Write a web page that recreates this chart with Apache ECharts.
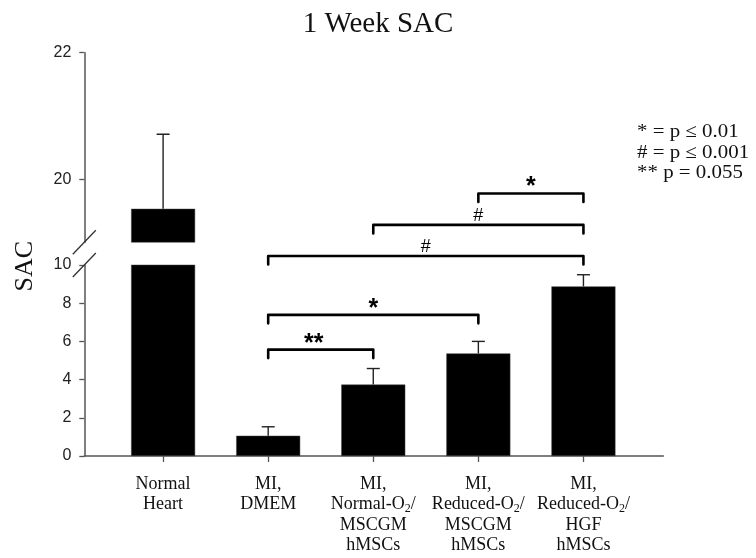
<!DOCTYPE html>
<html>
<head>
<meta charset="utf-8">
<script src="https://cdn.jsdelivr.net/npm/echarts@6/dist/echarts.min.js"></script>
<style>html,body{margin:0;padding:0;background:#fff}#c{width:756px;height:558px}</style>
</head>
<body>
<div id="c"></div>
<script>
// ---- data ----
const categories = ['Normal\nHeart', 'MI,\nDMEM', 'MI,\nNormal-O2/\nMSCGM\nhMSCs', 'MI,\nReduced-O2/\nMSCGM\nhMSCs', 'MI,\nReduced-O2/\nHGF\nhMSCs'];
const meanValues = [19.53, 1.06, 3.74, 5.37, 8.88];
const errorTops = [20.71, 1.53, 4.58, 6.0, 9.49];
const lowerTicks = [0, 2, 4, 6, 8, 10];
const upperTicks = [20, 22];
const brkFrom = [1, 1, 1, 2, 3];
const brkTo = [2, 3, 4, 4, 4];
const brkLevel = [5.57, 7.39, 10.47, 12.10, 13.74];
const brkLabel = ['**', '*', '#', '#', '*'];
const legendLines = ['* = p \u2264 0.01', '# = p \u2264 0.001', '** p = 0.055'];

const X_MIN = -0.75, X_MAX = 4.76;
const LOW_MIN = 0, LOW_MAX = 10, UP_MIN = 19, UP_MAX = 22;
const serif = 'Liberation Serif';
const sans = 'Liberation Sans';
const axisCol = '#555';

const chart = echarts.init(document.getElementById('c'), null, {renderer: 'canvas'});

const idx = categories.map((_, i) => i);
const barData = meanValues.map((v, i) => [i, v]);
const errData = meanValues.map((v, i) => [i, v, errorTops[i]]);
const brkData = brkFrom.map((f, i) => [f, brkTo[i], brkLevel[i], i]);

function errorRender(params, api) {
  const x = api.value(0);
  const b = api.coord([x, api.value(1)]);
  const t = api.coord([x, api.value(2)]);
  return {
    type: 'group',
    children: [
      {type: 'line', shape: {x1: b[0], y1: b[1], x2: t[0], y2: t[1]}, style: {stroke: '#222', lineWidth: 1.4}},
      {type: 'line', shape: {x1: t[0] - 6.5, y1: t[1], x2: t[0] + 6.5, y2: t[1]}, style: {stroke: '#222', lineWidth: 1.4}}
    ]
  };
}

function bracketRender(params, api) {
  const i = api.value(3);
  const p1 = api.coord([api.value(0), api.value(2)]);
  const p2 = api.coord([api.value(1), api.value(2)]);
  const leg = 8.5;
  const lab = brkLabel[i];
  const isStar = lab.indexOf('*') >= 0;
  return {
    type: 'group',
    children: [
      {type: 'polyline', shape: {points: [[p1[0], p1[1] + leg], [p1[0], p1[1]], [p2[0], p2[1]], [p2[0], p2[1] + leg]]},
       style: {stroke: '#000', lineWidth: 2.6, fill: null, lineJoin: 'round', lineCap: 'round'}},
      {type: 'text', x: (p1[0] + p2[0]) / 2 - (lab === '**' ? 7 : 0), y: p1[1] - (isStar ? 6 : 9),
       style: {text: lab, fill: '#000', font: (isStar ? 'bold 25px ' : '18px ') + '"' + sans + '"', align: 'center', verticalAlign: 'middle'}}
    ]
  };
}

function breakRender(params, api) {
  const p = api.coord([api.value(0), api.value(1)]);
  return {type: 'line', shape: {x1: p[0] - 11.5, y1: p[1] + 12, x2: p[0] + 11.5, y2: p[1] - 12}, style: {stroke: '#333', lineWidth: 1.3}};
}

const option = {
  backgroundColor: '#fff',
  animation: false,
  title: {text: '1 Week SAC', left: 'center', top: 5, textStyle: {fontFamily: serif, fontSize: 29, fontWeight: 'normal', color: '#111'}},
  graphic: [
    {type: 'text', left: 12, top: 241, rotation: Math.PI / 2,
     style: {text: 'SAC', font: '26px "' + serif + '"', fill: '#111'}},
    {type: 'text', left: 637, top: 122, scaleX: 1.1,
     style: {text: legendLines.join('\n'), font: '19px "' + serif + '"', lineHeight: 20.5, fill: '#111'}}
  ],
  grid: [
    {left: 84.3, right: 92.7, top: 265, bottom: 102},
    {left: 84.3, right: 92.7, top: 52.7, bottom: 315.7}
  ],
  xAxis: [
    {type: 'value', gridIndex: 0, min: X_MIN, max: X_MAX,
     axisLine: {show: true, onZero: false, lineStyle: {color: axisCol, width: 1.5}},
     axisTick: {show: true, length: 6, customValues: idx, lineStyle: {color: axisCol, width: 1.3}},
     splitLine: {show: false},
     axisLabel: {customValues: idx, margin: 18, fontFamily: serif, fontSize: 18, lineHeight: 20.5, color: '#111',
       formatter: v => categories[Math.round(v)].replace('O2/', 'O{sub|2}/'),
       rich: {sub: {fontFamily: serif, fontSize: 12, lineHeight: 20.5, verticalAlign: 'bottom', padding: [8, 0, 0, 0], color: '#111'}}}},
    {type: 'value', gridIndex: 1, min: X_MIN, max: X_MAX, show: false}
  ],
  yAxis: [
    {type: 'value', gridIndex: 0, min: LOW_MIN, max: LOW_MAX, interval: 2,
     axisLine: {show: true, onZero: false, lineStyle: {color: axisCol, width: 1.5}},
     axisTick: {show: true, length: 5, lineStyle: {color: axisCol, width: 1.3}},
     splitLine: {show: false},
     axisLabel: {margin: 13, fontFamily: sans, fontSize: 16, color: '#222'}},
    {type: 'value', gridIndex: 1, min: UP_MIN, max: UP_MAX,
     axisLine: {show: true, onZero: false, lineStyle: {color: axisCol, width: 1.5}},
     axisTick: {show: true, length: 5, customValues: upperTicks, lineStyle: {color: axisCol, width: 1.3}},
     splitLine: {show: false},
     axisLabel: {margin: 13, customValues: upperTicks, fontFamily: sans, fontSize: 16, color: '#222'}}
  ],
  series: [
    {type: 'bar', xAxisIndex: 0, yAxisIndex: 0, data: barData, barWidth: 64, clip: true,
     itemStyle: {color: '#000', borderColor: '#444', borderWidth: 0.5}},
    {type: 'bar', xAxisIndex: 1, yAxisIndex: 1, data: barData.filter(d => d[1] > UP_MIN), barWidth: 64, clip: true,
     itemStyle: {color: '#000', borderColor: '#444', borderWidth: 0.5}},
    {type: 'custom', xAxisIndex: 0, yAxisIndex: 0, data: errData.filter(d => d[2] <= LOW_MAX), renderItem: errorRender, clip: true, z: 3},
    {type: 'custom', xAxisIndex: 1, yAxisIndex: 1, data: errData.filter(d => d[1] >= UP_MIN), renderItem: errorRender, clip: true, z: 3},
    {type: 'custom', xAxisIndex: 0, yAxisIndex: 0, data: brkData, renderItem: bracketRender, clip: false, z: 4},
    {type: 'custom', xAxisIndex: 0, yAxisIndex: 0, data: [[X_MIN, LOW_MAX]], renderItem: breakRender, clip: false, z: 5},
    {type: 'custom', xAxisIndex: 1, yAxisIndex: 1, data: [[X_MIN, UP_MIN]], renderItem: breakRender, clip: false, z: 5}
  ]
};
chart.setOption(option);
</script>
</body>
</html>
